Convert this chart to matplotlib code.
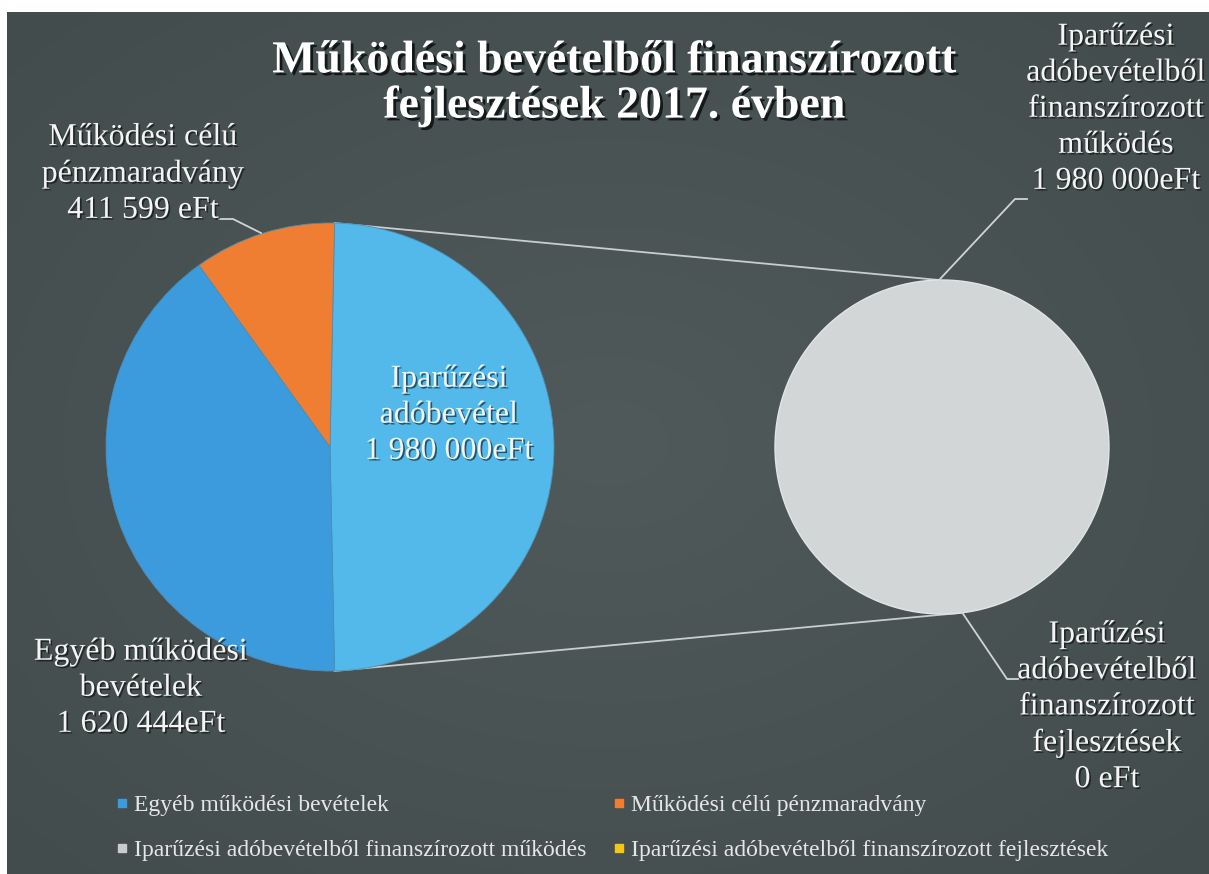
import numpy as np
import matplotlib
matplotlib.use("Agg")
import matplotlib.pyplot as plt
import matplotlib.patheffects as pe
from matplotlib.lines import Line2D

# ---------------- data ----------------
main_labels = ["Iparűzési adóbevétel", "Egyéb működési bevételek", "Működési célú pénzmaradvány"]
main_values = [1980000, 1620444, 411599]
main_colors = ["#52b9ea", "#3b9bdc", "#f07e32"]

sec_labels = ["Iparűzési adóbevételből finanszírozott működés",
              "Iparűzési adóbevételből finanszírozott fejlesztések"]
sec_values = [1980000, 0]
sec_colors = ["#d3d6d6", "#f5c518"]

legend_labels = ["Egyéb működési bevételek", "Működési célú pénzmaradvány",
                 "Iparűzési adóbevételből finanszírozott működés",
                 "Iparűzési adóbevételből finanszírozott fejlesztések"]
legend_colors = ["#3b9bdc", "#f07e32", "#c8cccc", "#f5c518"]

title = "Működési bevételből finanszírozott\nfejlesztések 2017. évben"

W, H = 1209, 874
def Y(y):  # pixel row -> data y
    return H - y

fig = plt.figure(figsize=(W / 100, H / 100), dpi=100, facecolor="white")
ax = fig.add_axes([0, 0, 1, 1])

# background with soft radial gradient
gx, gy = np.meshgrid(np.linspace(-1, 1, 300), np.linspace(-1, 1, 220))
r = np.sqrt(gx ** 2 + gy ** 2) / np.sqrt(2)
c_in = np.array([0x50, 0x5a, 0x5b]) / 255
c_out = np.array([0x42, 0x4c, 0x4c]) / 255
img = c_in[None, None, :] * (1 - r[..., None]) + c_out[None, None, :] * r[..., None]
ax.imshow(img, extent=(7, W, 0, Y(12)), zorder=0, aspect="auto", interpolation="bilinear")

serif = "Liberation Serif"
shadow = [pe.SimplePatchShadow(offset=(1.2, -1.2), shadow_rgbFace="black", alpha=0.55), pe.Normal()]

# ---------------- main pie ----------------
mc = (330, Y(447)); mr = 224
frac = main_values[0] / sum(main_values)
start = frac * 360 / 2
wedges, _ = ax.pie(main_values, colors=main_colors, startangle=start, counterclock=False,
                   center=mc, radius=mr, frame=True,
                   wedgeprops=dict(edgecolor="#4c8fb8", linewidth=0.6))
for w in wedges:
    w.set_zorder(3)

# ---------------- secondary pie ----------------
sc = (942, Y(447)); sr = 167
swedges, _ = ax.pie(sec_values, colors=sec_colors, startangle=90, counterclock=False,
                    center=sc, radius=sr, frame=True,
                    wedgeprops=dict(edgecolor="#e2e5e5", linewidth=1.0))
for w, v in zip(swedges, sec_values):
    w.set_zorder(3)
    if v == 0:
        w.set_linewidth(0)

# connector lines
a1, a2 = np.deg2rad(start), np.deg2rad(-start)
p_top = (mc[0] + mr * np.cos(a1), mc[1] + mr * np.sin(a1))
p_bot = (mc[0] + mr * np.cos(a2), mc[1] + mr * np.sin(a2))
b1, b2 = np.deg2rad(91), np.deg2rad(-83)
q_top = (sc[0] + sr * np.cos(b1), sc[1] + sr * np.sin(b1))
q_bot = (sc[0] + sr * np.cos(b2), sc[1] + sr * np.sin(b2))
for p, q in [(p_top, q_top), (p_bot, q_bot)]:
    ax.plot([p[0], q[0]], [p[1], q[1]], color="#c9cdcd", lw=1.3, zorder=2)

# ---------------- labels ----------------
lab_kw = dict(fontsize=23, family=serif, color="#f4f4f4", ha="center", va="center",
              linespacing=1.32, zorder=5, path_effects=shadow)

ax.text(143, Y(174), "Működési célú\npénzmaradvány\n411 599 eFt", **lab_kw)
ax.plot([219, 233, 261], [Y(219), Y(219), Y(233)], color="#d0d4d4", lw=1.3, zorder=4)

ax.text(449, Y(415), "Iparűzési\nadóbevétel\n1 980 000eFt", **lab_kw)

ax.text(141, Y(688), "Egyéb működési\nbevételek\n1 620 444eFt", **lab_kw)

ax.text(1116, Y(109), "Iparűzési\nadóbevételből\nfinanszírozott\nműködés\n1 980 000eFt", **lab_kw)
ax.plot([1027, 1015, q_top[0]], [Y(199), Y(199), q_top[1]], color="#d0d4d4", lw=1.3, zorder=4)

ax.text(1107, Y(707), "Iparűzési\nadóbevételből\nfinanszírozott\nfejlesztések\n0 eFt", **lab_kw)
ax.plot([q_bot[0], 1007, 1018], [q_bot[1], Y(679), Y(679)], color="#d0d4d4", lw=1.3, zorder=4)

# ---------------- title ----------------
ax.text(615, Y(84), title, fontsize=33, family=serif, fontweight="bold", color="white",
        ha="center", va="center", linespacing=1.1, zorder=5,
        path_effects=[pe.SimplePatchShadow(offset=(2, -2), shadow_rgbFace="black", alpha=0.7), pe.Normal()])

# ---------------- legend ----------------
order = [0, 2, 1, 3]
handles = [Line2D([], [], marker="s", linestyle="none", markersize=6,
                  markerfacecolor=legend_colors[i], markeredgecolor=legend_colors[i]) for i in order]
leg = ax.legend(handles, [legend_labels[i] for i in order], ncol=2, loc="upper left",
                bbox_to_anchor=(96 / W, 1 - 773 / H), frameon=False,
                prop=dict(family=serif, size=17), labelcolor="#e6e6e6",
                handlelength=0.4, handletextpad=0.3, columnspacing=1.2, labelspacing=1.0)

ax.set_xlim(0, W)
ax.set_ylim(0, H)
ax.set_aspect("auto")
ax.axis("off")

fig.savefig("out.png", dpi=100, facecolor="white")
